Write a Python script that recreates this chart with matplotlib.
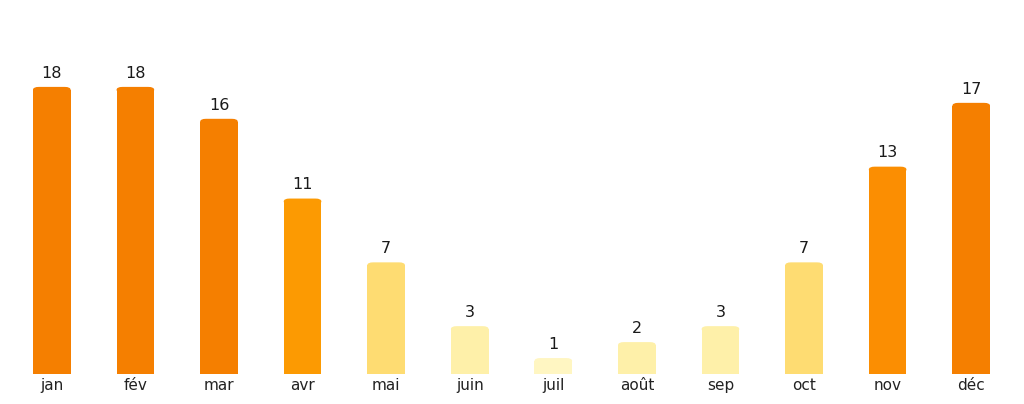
import numpy as np
import matplotlib.pyplot as plt
from matplotlib.patches import FancyBboxPatch

# ----------------------------------------------------------------
#  Data
# ----------------------------------------------------------------
months = ["jan", "fév", "mar", "avr", "mai", "juin",
          "juil", "août", "sep", "oct", "nov", "déc"]
values = [18, 18, 16, 11, 7, 3, 1, 2, 3, 7, 13, 17]

# colour bins (upper bound, colour)
bins = [(1, "#FFF6C2"), (3, "#FEF0A9"), (8, "#FEDC72"),
        (12, "#FC9A02"), (14, "#FB8E02"), (99, "#F57F00")]


def pick_colour(v):
    for upper, c in bins:
        if v <= upper:
            return c
    return bins[-1][1]


# ----------------------------------------------------------------
#  Plot
# ----------------------------------------------------------------
W, H = 1024, 404
fig = plt.figure(figsize=(W / 100, H / 100), dpi=100)
ax = fig.add_axes([10 / W, 30 / H, 1003 / W, 319 / H])

x = np.arange(len(months))
colours = [pick_colour(v) for v in values]
bars = ax.bar(x, values, width=0.45, color=colours, linewidth=0)

ax.set_xlim(-0.5, len(months) - 0.5)
ax.set_ylim(0, 20)

# rounded top corners
rx = 0.07          # data units along x
aspect = 2.6       # vertical radius relative to horizontal
ry = rx * aspect
for b in bars:
    bx, bw, bh = b.get_x(), b.get_width(), b.get_height()
    b.set_height(bh - ry)
    cap = FancyBboxPatch((bx, bh - 2 * ry), bw, 2 * ry,
                         boxstyle=f"round,pad=0,rounding_size={rx}",
                         mutation_aspect=aspect,
                         facecolor=b.get_facecolor(), linewidth=0)
    ax.add_patch(cap)

for xi, v in zip(x, values):
    ax.annotate(str(v), (xi, v), xytext=(0, 4.5), textcoords="offset points",
                ha="center", va="bottom", fontsize=11.5, color="#1a1a1a")

ax.set_xticks(x)
ax.set_xticklabels(months, fontsize=11, color="#222222")
ax.tick_params(axis="x", length=0, pad=3)
ax.set_yticks([])
for s in ax.spines.values():
    s.set_visible(False)

fig.savefig("out.png", dpi=100)
